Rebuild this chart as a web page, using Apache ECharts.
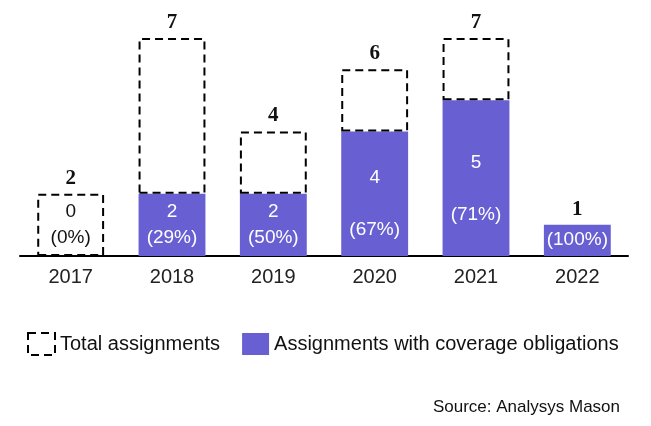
<!DOCTYPE html>
<html>
<head>
<meta charset="utf-8">
<script src="https://cdn.jsdelivr.net/npm/echarts@6/dist/echarts.min.js"></script>
<style>html,body{margin:0;padding:0;background:#fff}#c{width:651px;height:426px}</style>
</head>
<body>
<div id="c"></div>
<script>
var years = ['2017', '2018', '2019', '2020', '2021', '2022'];
var totalAssignments = [2, 7, 4, 6, 7, 1];
var coverageAssignments = [0, 2, 2, 4, 5, 1];
var coveragePct = ['0%', '29%', '50%', '67%', '71%', '100%'];

var PURPLE = '#6860d2';
var FONT = '"Liberation Sans", Arial, sans-serif';

// label layout per bar (style only, not data)
var labelLayout = [
  {lh: 26, dist: 5, color: '#111', showNum: true},
  {lh: 26, dist: 5, color: '#fff', showNum: true},
  {lh: 26, dist: 5, color: '#fff', showNum: true},
  {lh: 52, dist: 0, color: '#fff', showNum: true},
  {lh: 52, dist: 15, color: '#fff', showNum: true},
  {lh: 22, dist: 5, color: '#fff', showNum: false}
];

var remainder = totalAssignments.map(function (t, i) { return t - coverageAssignments[i]; });

var coverageData = coverageAssignments.map(function (v, i) {
  var L = labelLayout[i];
  return {
    value: v,
    label: {
      show: true,
      position: 'insideBottom',
      distance: L.dist,
      lineHeight: L.lh,
      color: L.color,
      fontSize: 19,
      fontFamily: FONT,
      formatter: L.showNum ? (v + '\n(' + coveragePct[i] + ')') : ('(' + coveragePct[i] + ')')
    }
  };
});

var dashStyle = {color: 'rgba(0,0,0,0)', borderColor: '#000', borderWidth: 2, borderType: [8, 5]};

var remainderData = remainder.map(function (v) {
  return v === 0
    ? {value: v, itemStyle: {borderWidth: 0, borderColor: 'rgba(0,0,0,0)'}}
    : {value: v};
});

var chart = echarts.init(document.getElementById('c'), null, {renderer: 'canvas'});
chart.setOption({
  animation: false,
  grid: {left: 20, right: 23, top: 38, bottom: 170},
  xAxis: {
    type: 'category',
    data: years,
    axisLine: {lineStyle: {color: '#000', width: 2}},
    axisTick: {show: false},
    axisLabel: {color: '#222', fontSize: 20, fontFamily: FONT, margin: 11}
  },
  yAxis: {type: 'value', min: 0, max: 7, show: false, splitLine: {show: false}},
  legend: {
    left: 22,
    top: 327,
    itemWidth: 27,
    itemHeight: 22,
    itemGap: 22,
    textStyle: {fontSize: 20, color: '#111', fontFamily: FONT},
    data: [
      {name: 'Total assignments', icon: 'rect', itemStyle: dashStyle},
      {name: 'Assignments with coverage obligations', icon: 'rect', itemStyle: {color: PURPLE, borderWidth: 0}}
    ]
  },
  graphic: [{
    type: 'text',
    right: 31,
    top: 399,
    style: {text: 'Source: Analysys Mason', font: '17px ' + FONT, fill: '#111'}
  }],
  series: [
    {
      name: 'Assignments with coverage obligations',
      type: 'bar',
      stack: 'a',
      barWidth: '66%',
      itemStyle: {color: PURPLE},
      data: coverageData
    },
    {
      name: 'Total assignments',
      type: 'bar',
      stack: 'a',
      barWidth: '66%',
      itemStyle: dashStyle,
      label: {
        show: true,
        position: 'top',
        distance: 5,
        color: '#111',
        fontSize: 21,
        fontWeight: 'bold',
        fontFamily: '"Liberation Serif", "DejaVu Serif", serif',
        formatter: function (p) { return totalAssignments[p.dataIndex]; }
      },
      data: remainderData
    }
  ]
});
</script>
</body>
</html>
